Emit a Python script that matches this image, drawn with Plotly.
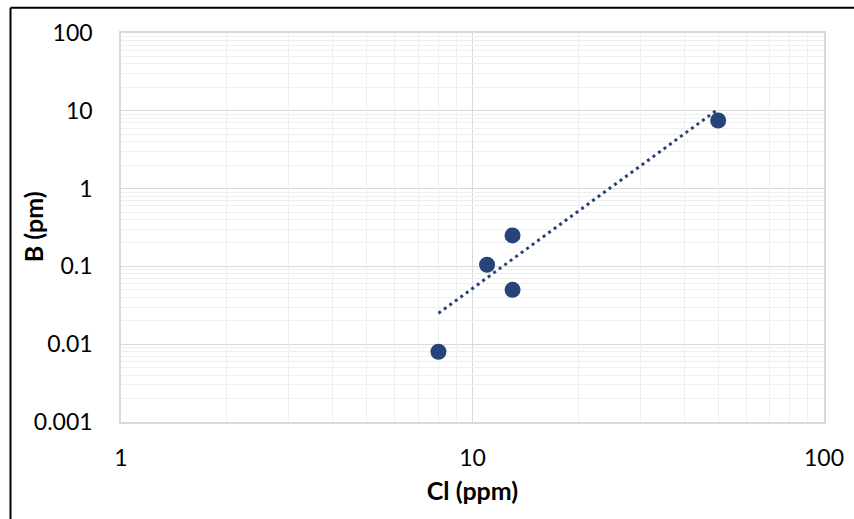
import plotly.graph_objects as go

# Data
cl_ppm = [8, 11, 13, 13, 50]
b_pm = [0.008, 0.105, 0.25, 0.05, 7.5]

# Power trendline (straight on log-log), endpoints
trend_x = [8, 50]
trend_y = [0.025, 10.5]

x_tick_vals = [1, 10, 100]
x_tick_text = ["1", "10", "100"]
y_tick_vals = [0.001, 0.01, 0.1, 1, 10, 100]
y_tick_text = ["0.001", "0.01", "0.1", "1", "10", "100"]

BLUE = "#264478"
FONT = "Lato"
MAJOR = "#d9d9d9"
MINOR = "#efefef"

# minor gridline positions (2..9 within each decade)
mult = [2, 3, 4, 5, 6, 7, 8, 9]
x_minor = [m * d for d in x_tick_vals[:-1] for m in mult]
y_minor = [m * d for d in y_tick_vals[:-1] for m in mult]

fig = go.Figure()
# invisible trace to carry the minor-grid overlay axes
fig.add_trace(go.Scatter(x=[None], y=[None], xaxis="x2", yaxis="y2",
                         mode="markers", showlegend=False, hoverinfo="skip"))
fig.add_trace(go.Scatter(
    x=trend_x, y=trend_y, mode="lines",
    line=dict(color=BLUE, width=3, dash="3px,3.8px"),
    hoverinfo="skip", showlegend=False,
))
fig.add_trace(go.Scatter(
    x=cl_ppm, y=b_pm, mode="markers",
    marker=dict(color=BLUE, size=16, line=dict(width=0)),
    showlegend=False,
))

L, R, T, B = 121, 30, 32.5, 97
W, H = 854, 519
pw = W - L - R
ph = H - T - B


def px(xp):
    return (xp - L) / pw


def py(yp):
    return (H - B - yp) / ph


axis_common = dict(
    type="log",
    showgrid=True,
    gridcolor=MAJOR,
    gridwidth=1,
    showline=True,
    linecolor=MAJOR,
    linewidth=1.5,
    mirror=True,
    zeroline=False,
    ticks="",
    tickfont=dict(family=FONT, size=23, color="#000000"),
)
title_font = dict(family=FONT, size=25, color="#000000")

fig.update_layout(
    xaxis=dict(
        **axis_common,
        range=[0, 2],
        tickvals=x_tick_vals, ticktext=x_tick_text,
        ticklabelstandoff=15,
        title=dict(text="<b>Cl (ppm)</b>", font=title_font, standoff=12),
    ),
    yaxis=dict(
        **axis_common,
        range=[-3, 2],
        tickvals=y_tick_vals, ticktext=y_tick_text,
        ticklabelstandoff=22,
    ),
    xaxis2=dict(
        type="log", range=[0, 2], overlaying="x", anchor="y2",
        tickvals=x_minor, showticklabels=False, ticks="",
        showgrid=True, gridcolor=MINOR, gridwidth=1,
        showline=False, zeroline=False,
    ),
    yaxis2=dict(
        type="log", range=[-3, 2], overlaying="y", anchor="x2",
        tickvals=y_minor, showticklabels=False, ticks="",
        showgrid=True, gridcolor=MINOR, gridwidth=1,
        showline=False, zeroline=False,
    ),
    annotations=[
        dict(text="<b>B (pm)</b>", font=title_font, textangle=-90,
             xref="paper", yref="paper", x=px(33), y=py(227),
             xanchor="center", yanchor="middle", showarrow=False),
    ],
    width=W, height=H,
    margin=dict(l=L, r=R, t=T, b=B, autoexpand=False),
    paper_bgcolor="white",
    plot_bgcolor="white",
    shapes=[
        dict(type="line", xref="paper", yref="paper",
             x0=px(10.5), x1=px(870), y0=py(7.3), y1=py(7.3),
             line=dict(color="black", width=2)),
        dict(type="line", xref="paper", yref="paper",
             x0=px(10.5), x1=px(10.5), y0=py(7.3), y1=py(540),
             line=dict(color="black", width=2)),
    ],
)

fig.write_html("out.html", config={"displayModeBar": False},
               post_script="document.body.style.margin='0';")
